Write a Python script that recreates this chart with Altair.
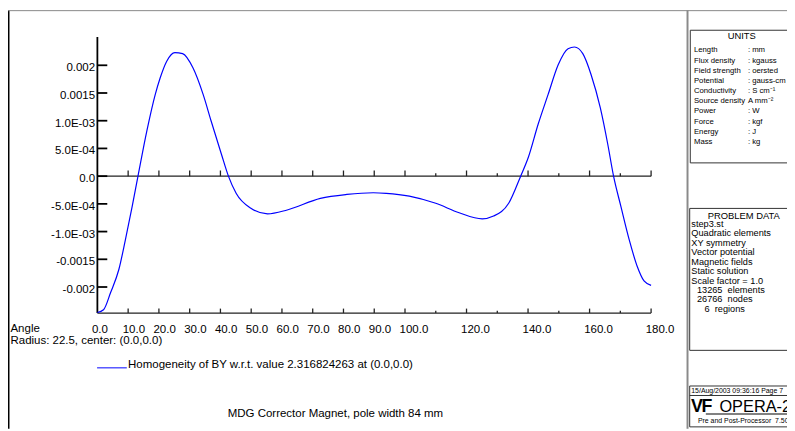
import altair as alt
import pandas as pd

FONT = "Liberation Sans"

# ---- curve data ----
angles = [0.0, 2.0, 4.3, 7.0, 9.1, 11.3, 13.2, 16.1, 18.8, 20.4, 22.5, 25.2, 27.7,
          31.1, 34.4, 37.0, 40.3, 42.6, 45.1, 49.9, 55.3, 61.7, 72.5, 81.1, 89.7,
          93.9, 101.4, 110.0, 117.6, 125.1, 128.8, 133.7, 137.6, 140.1, 143.3,
          146.5, 149.8, 153.0, 155.1, 157.8, 160.5, 163.5, 165.9, 167.8, 170.2,
          172.9, 175.5, 177.7, 180.0]
values = [-2.46e-3, -2.41e-3, -2.10e-3, -1.68e-3, -1.15e-3, -5.5e-4, 0.0, 8.2e-4,
          1.47e-3, 1.77e-3, 2.07e-3, 2.23e-3, 2.21e-3, 1.95e-3, 1.47e-3, 9.9e-4,
          4.0e-4, 0.0, -3.1e-4, -5.8e-4, -6.8e-4, -6.1e-4, -4.0e-4, -3.3e-4,
          -3.0e-4, -3.1e-4, -3.6e-4, -4.9e-4, -6.6e-4, -7.7e-4, -7.2e-4, -4.9e-4,
          0.0, 3.4e-4, 9.4e-4, 1.47e-3, 2.01e-3, 2.30e-3, 2.33e-3, 2.21e-3,
          1.83e-3, 1.23e-3, 5.8e-4, 0.0, -5.5e-4, -1.15e-3, -1.63e-3, -1.89e-3,
          -1.97e-3]

# ---- axes ----
x_label_vals = [0, 10, 20, 30, 40, 50, 60, 70, 80, 90, 100, 120, 140, 160, 180]
x_label_text = ["0.0", "10.0", "20.0", "30.0", "40.0", "50.0", "60.0", "70.0",
                "80.0", "90.0", "100.0", "120.0", "140.0", "160.0", "180.0"]
x_major_ticks = [10, 20, 30, 40, 50, 60, 70, 80, 90, 100, 120, 140, 160, 180]
x_minor_ticks = [110, 130, 150, 170]
y_tick_vals = [0.002, 0.0015, 0.001, 0.0005, 0.0, -0.0005, -0.001, -0.0015, -0.002]
y_tick_text = ["0.002", "0.0015", "1.0E-03", "5.0E-04", "0.0", "-5.0E-04",
               "-1.0E-03", "-0.0015", "-0.002"]
y_axis_span = [-0.00247, 0.00251]
x_axis_span = [0, 180]

# ---- texts ----
angle_text = ["Angle", "Radius: 22.5, center: (0.0,0.0)"]
legend_text = "Homogeneity of BY w.r.t. value 2.316824263 at (0.0,0.0)"
title_text = "MDG Corrector Magnet, pole width 84 mm"
units_title = "UNITS"
units_labels = ["Length", "Flux density", "Field strength", "Potential", "Conductivity",
                "Source density", "Power", "Force", "Energy", "Mass"]
units_values = [": mm", ": kgauss", ": oersted", ": gauss-cm", ": S cm\u207b\u00b9",
                "A mm\u207b\u00b2", ": W", ": kgf", ": J", ": kg"]
problem_title = "PROBLEM DATA"
problem_lines = ["step3.st", "Quadratic elements", "XY symmetry", "Vector potential",
                 "Magnetic fields", "Static solution", "Scale factor = 1.0"]
problem_counts = ["13265\u00a0\u00a0elements", "26766\u00a0\u00a0nodes", "6\u00a0\u00a0regions"]
date_text = "15/Aug/2003 09:36:16 Page 7"
opera_text = "OPERA-2"
pp_text = "Pre and Post-Processor\u00a0\u00a07.50"

# ---- scales ----
XR = [90.3, 649.7]
YR = [307.7, 27.7]
YD = [-0.0025, 0.0025]
xs = alt.Scale(domain=[0, 180], range=XR, nice=False, zero=False)
ys = alt.Scale(domain=YD, range=YR, nice=False, zero=False)


def ypx(v):
    return YR[0] + (v - YD[0]) / (YD[1] - YD[0]) * (YR[1] - YR[0])


def X(f):
    return alt.X(f, type="quantitative", scale=xs, axis=None)


def Y(f):
    return alt.Y(f, type="quantitative", scale=ys, axis=None)


one = alt.Data(values=[{}])

curve_df = pd.DataFrame({"angle": angles, "value": values})
curve = alt.Chart(curve_df).mark_line(color="#0000ff", strokeWidth=1.2,
                                      interpolate="monotone").encode(
    x=X("angle"), y=Y("value"))

yaxis = alt.Chart(pd.DataFrame({"a": [0], "y1": [y_axis_span[0]], "y2": [y_axis_span[1]]})).mark_rule(
    color="black", strokeWidth=1.8).encode(x=X("a"), y=Y("y1"), y2="y2")

yt_df = pd.DataFrame({"a": [0] * len(y_tick_vals), "v": y_tick_vals, "t": y_tick_text})
yticks = alt.Chart(yt_df).mark_rule(color="black", strokeWidth=1.8).encode(
    x=X("a"), x2=alt.value(XR[0] + 10), y=Y("v"))
ylabels = alt.Chart(yt_df).mark_text(align="right", baseline="alphabetic", dy=6,
                                     fontSize=11.6, font=FONT, color="black").encode(
    x=alt.value(88), y=Y("v"), text="t:N")

hl_df = pd.DataFrame({"a0": [x_axis_span[0]] * 2, "a1": [x_axis_span[1]] * 2,
                      "z": [0.0, y_axis_span[0]]})
hlines = alt.Chart(hl_df).mark_rule(color="#222222", strokeWidth=1.3).encode(
    x=X("a0"), x2="a1", y=Y("z"))

maj_df = pd.DataFrame({"a": x_major_ticks})
min_df = pd.DataFrame({"a": x_minor_ticks})
z0 = ypx(0.0)
zb = ypx(y_axis_span[0])
zt_major = alt.Chart(maj_df).mark_rule(color="#222222", strokeWidth=1.3).encode(
    x=X("a"), y=alt.value(z0), y2=alt.value(z0 - 5.7))
zt_minor = alt.Chart(min_df).mark_rule(color="#222222", strokeWidth=1.3).encode(
    x=X("a"), y=alt.value(z0), y2=alt.value(z0 - 3))
bt_major = alt.Chart(maj_df).mark_rule(color="#222222", strokeWidth=1.3).encode(
    x=X("a"), y=alt.value(zb), y2=alt.value(zb - 4.5))
bt_minor = alt.Chart(min_df).mark_rule(color="#222222", strokeWidth=1.3).encode(
    x=X("a"), y=alt.value(zb), y2=alt.value(zb - 2.3))

xl_df = pd.DataFrame({"a": x_label_vals, "t": x_label_text})
xlabels = alt.Chart(xl_df).mark_text(align="left", baseline="alphabetic", dx=-5.5,
                                     fontSize=11.6, font=FONT, color="black").encode(
    x=X("a"), y=alt.value(326), text="t:N")


def txt(text, x, y, size=11.6, align="left", weight="normal", lh=None, color="black"):
    kw = dict(text=text, x=x, y=y, fontSize=size, align=align, baseline="alphabetic",
              font=FONT, fontWeight=weight, color=color)
    if lh is not None:
        kw["lineHeight"] = lh
    return alt.Chart(one).mark_text(**kw)


def box(x, x2, y, y2, color="#333333", w=1.0):
    return alt.Chart(one).mark_rect(x=x, x2=x2, y=y, y2=y2, fill="white", fillOpacity=0,
                                    stroke=color, strokeWidth=w)


def hline(x, x2, y, color="#333333", w=1.0):
    return alt.Chart(one).mark_rule(color=color, strokeWidth=w).encode(
        x=alt.value(x), x2=alt.value(x2), y=alt.value(y))


def vline(x, y, y2, color="#333333", w=1.0):
    return alt.Chart(one).mark_rule(color=color, strokeWidth=w).encode(
        x=alt.value(x), y=alt.value(y), y2=alt.value(y2))


PL = 9.55
PY = 218.9
PS = 9.3

layers = [
    # frame
    vline(0.75, 0, 423, color="black", w=1.5),
    hline(0, 787, 0.5, color="#888888", w=1),
    vline(686.5, 0, 423, color="#8a8a8a", w=2),
    # plot
    hlines, zt_major, zt_minor, bt_major, bt_minor,
    yaxis, yticks, ylabels, xlabels, curve,
    txt(angle_text, 2.5, 325.3, lh=12.4),
    alt.Chart(one).mark_rule(color="#5555ff", strokeWidth=1.5).encode(
        x=alt.value(90), x2=alt.value(120), y=alt.value(361.3)),
    txt(legend_text, 121.3, 361.3),
    txt(title_text, 222, 411.3),
    # units box
    box(689.3, 792, 20.3, 154.3),
    txt(units_title, 741.3, 29.6, size=9.5, align="center"),
    txt(units_labels, 693, 42.6, size=7.8, lh=10.3),
    txt(units_values, 747.5, 42.6, size=7.8, lh=10.3),
    # problem data box
    box(688.7, 792, 200.3, 343.7),
    txt(problem_title, 743.3, 210.5, size=9.5, align="center"),
] + [
    txt(line, 690.3, PY + i * PL, size=PS) for i, line in enumerate(problem_lines)
] + [
    txt(problem_counts[0], 696, PY + 7 * PL, size=PS),
    txt(problem_counts[1], 696, PY + 8 * PL, size=PS),
    txt(problem_counts[2], 703.7, PY + 9 * PL, size=PS),
    # date / logo box
    box(688.7, 792, 379.7, 421),
    hline(688.7, 787, 389.3),
    txt(date_text, 690.3, 387.2, size=7),
    txt("V", 690, 406.2, size=18, weight="bold"),
    txt("F", 700.5, 406.2, size=18, weight="bold"),
    txt(opera_text, 718.7, 406.2, size=16.5),
    hline(705, 787, 408, color="black"),
    txt(pp_text, 697, 416.8, size=7),
]

chart = alt.layer(*layers).properties(
    width=787, height=423, padding=0, autosize="none", background="white"
).configure_view(stroke=None)

chart.save("out.html", embed_options={"renderer": "svg", "actions": False})
